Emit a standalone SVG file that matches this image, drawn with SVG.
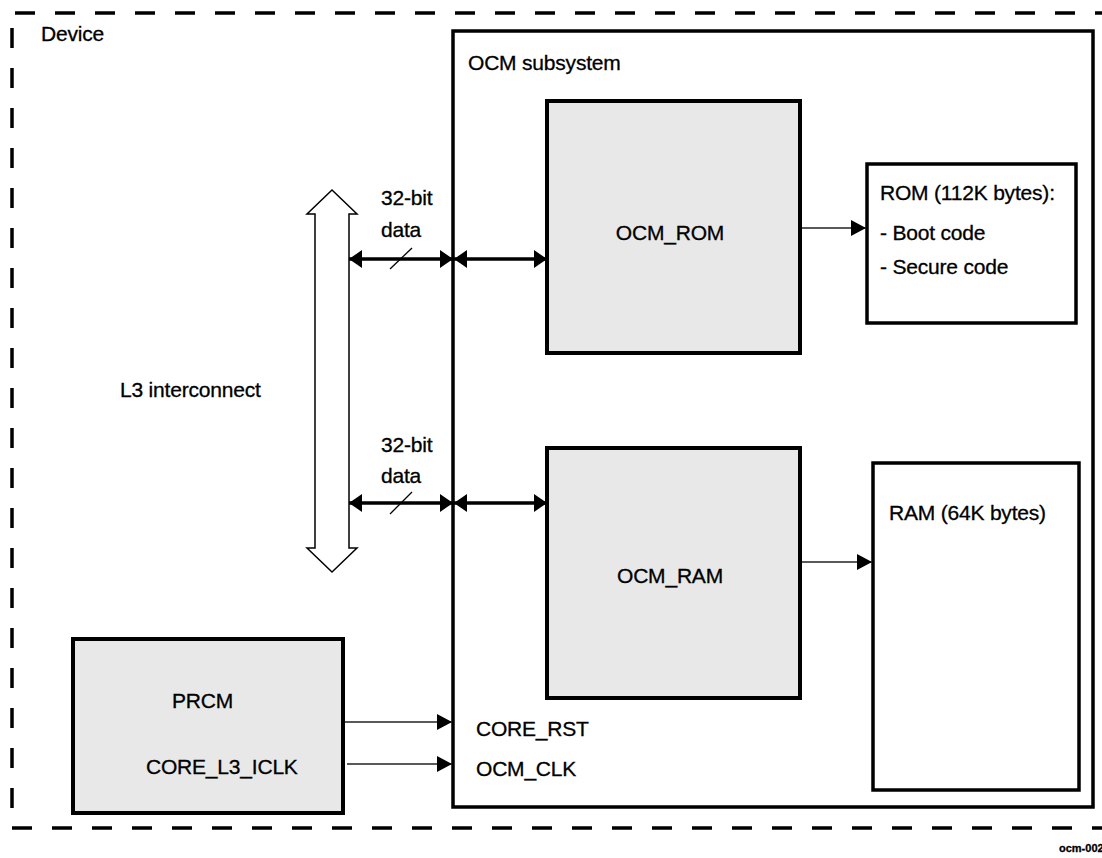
<svg xmlns="http://www.w3.org/2000/svg" width="1102" height="858" viewBox="0 0 1102 858">
<style>
text{font-family:"Liberation Sans",Arial,sans-serif;font-size:21px;fill:#000;stroke:#000;stroke-width:0.3;letter-spacing:-0.2px}
.blk{fill:#e8e8e8;stroke:#000;stroke-width:4}
.box{fill:#fff;stroke:#000;stroke-width:3.5}
.dash{stroke:#000;stroke-width:3.5;stroke-dasharray:20 20;fill:none}
.bus{stroke:#000;stroke-width:3.5;fill:none}
.sig{stroke:#222;stroke-width:1.3;fill:none}
</style>
<defs>
<marker id="bh" markerUnits="userSpaceOnUse" markerWidth="14" markerHeight="20" refX="13" refY="9" orient="auto-start-reverse"><path d="M0,0 L13,9 L0,18 Z" fill="#000"/></marker>
<marker id="sh" markerUnits="userSpaceOnUse" markerWidth="16" markerHeight="18" refX="15" refY="8" orient="auto"><path d="M0,0 L15,8 L0,16 Z" fill="#000"/></marker>
</defs>
<g id="device">
<line class="dash" x1="15" y1="13" x2="1102" y2="13"/>
<line class="dash" x1="12" y1="28" x2="12" y2="808"/>
<line class="dash" x1="12" y1="828" x2="1102" y2="828"/>
<text x="41" y="41">Device</text>
</g>
<g id="ocm-subsystem">
<rect class="box" x="453" y="31" width="640" height="776" fill="none"/>
<text x="468" y="70">OCM subsystem</text>
</g>
<g id="ocm-rom">
<rect class="blk" x="547" y="101" width="253" height="252"/>
<text x="670" y="240" text-anchor="middle">OCM_ROM</text>
</g>
<g id="ocm-ram">
<rect class="blk" x="547" y="448" width="253" height="250"/>
<text x="670" y="583" text-anchor="middle">OCM_RAM</text>
</g>
<g id="rom">
<rect class="box" x="867" y="164" width="209" height="159"/>
<text x="880" y="200">ROM (112K bytes):</text>
<text x="880" y="240">- Boot code</text>
<text x="880" y="274">- Secure code</text>
</g>
<g id="ram">
<rect class="box" x="873" y="463" width="206" height="327"/>
<text x="889" y="520">RAM (64K bytes)</text>
</g>
<g id="prcm">
<rect class="blk" x="73" y="639" width="270" height="174"/>
<text x="172" y="708">PRCM</text>
<text x="146" y="774">CORE_L3_ICLK</text>
</g>
<g id="l3-interconnect">
<polygon points="332,190 357,214 349,214 349,548 357,548 332,572 307,548 315,548 315,214 307,214" fill="#fff" stroke="#000" stroke-width="1.5"/>
<text x="120" y="397">L3 interconnect</text>
</g>
<g id="connectors">
<line class="bus" x1="349" y1="259" x2="453" y2="259" marker-start="url(#bh)" marker-end="url(#bh)"/>
<line class="bus" x1="454" y1="259" x2="547" y2="259" marker-start="url(#bh)" marker-end="url(#bh)"/>
<line x1="390" y1="269" x2="412" y2="248" stroke="#000" stroke-width="1.3"/>
<text x="381" y="205">32-bit</text>
<text x="381" y="237">data</text>
<line class="bus" x1="349" y1="503" x2="453" y2="503" marker-start="url(#bh)" marker-end="url(#bh)"/>
<line class="bus" x1="454" y1="503" x2="547" y2="503" marker-start="url(#bh)" marker-end="url(#bh)"/>
<line x1="390" y1="514" x2="412" y2="492" stroke="#000" stroke-width="1.3"/>
<text x="381" y="452">32-bit</text>
<text x="381" y="483">data</text>
<line class="sig" x1="802" y1="228" x2="866" y2="228" marker-end="url(#sh)"/>
<line class="sig" x1="802" y1="562" x2="872" y2="562" marker-end="url(#sh)"/>
<line class="sig" x1="345" y1="722" x2="452" y2="722" marker-end="url(#sh)"/>
<line class="sig" x1="347" y1="764" x2="452" y2="764" marker-end="url(#sh)"/>
<text x="476" y="736">CORE_RST</text>
<text x="476" y="776">OCM_CLK</text>
</g>
<text x="1059" y="852" style="font-size:11px;font-weight:bold;letter-spacing:0">ocm-002</text>
</svg>
